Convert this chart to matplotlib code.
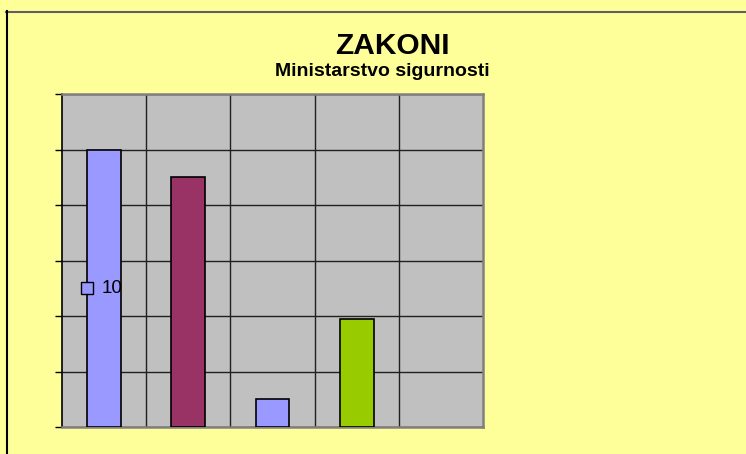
import matplotlib
matplotlib.use("Agg")
import matplotlib.pyplot as plt
from matplotlib.lines import Line2D
from matplotlib.ticker import MultipleLocator

plt.rcParams["font.family"] = ["Liberation Sans", "DejaVu Sans"]

# ── data ──
categories = [0, 1, 2, 3]
values = [10, 9, 1, 3.9]
bar_colors = ["#9999FF", "#993366", "#9999FF", "#99CC00"]
title = "ZAKONI"
subtitle = "Ministarstvo sigurnosti"
label_value = values[0]

BG = "#FFFF99"
PLOT_BG = "#C0C0C0"

fig = plt.figure(figsize=(7.46, 4.54), dpi=100)
fig.patch.set_facecolor(BG)

ax = fig.add_axes([62 / 746, 1 - 427 / 454, 421 / 746, 333 / 454])
ax.set_facecolor(PLOT_BG)

ax.bar(categories, values, width=0.4, color=bar_colors,
       edgecolor="black", linewidth=1.2, zorder=3)

ax.set_xlim(-0.5, 4.5)
ax.set_ylim(0, 12)
ax.yaxis.set_major_locator(MultipleLocator(2))
ax.set_xticks([0.5, 1.5, 2.5, 3.5], minor=True)
ax.set_xticks([])
ax.grid(True, which="major", axis="y", color="#202020", linewidth=1.0, zorder=1)
ax.grid(True, which="minor", axis="x", color="#202020", linewidth=1.0, zorder=1)
ax.tick_params(axis="y", direction="out", length=5, width=1, color="black",
               labelleft=False)
ax.tick_params(axis="x", which="both", length=0, labelbottom=False)

ax.spines["left"].set_color("black")
ax.spines["left"].set_linewidth(1.2)
for s in ("top", "right", "bottom"):
    ax.spines[s].set_color("#808080")
    ax.spines[s].set_linewidth(1.8)

# data label with legend key on the first bar
lx = categories[0] - 0.2
ly = label_value / 2
ax.plot([lx], [ly], marker="s", markersize=8, markerfacecolor=bar_colors[0],
        markeredgecolor="black", markeredgewidth=1.0, zorder=5, clip_on=False)
ax.annotate(str(label_value), (lx, ly), xytext=(10, 0), textcoords="offset points",
            ha="left", va="center", fontsize=13.5, color="black", zorder=6)

# titles
fig.text(392 / 746, 1 - 46 / 454, title, ha="center", va="center",
         fontsize=21.5, fontweight="bold")
fig.text(382 / 746, 1 - 71 / 454, subtitle, ha="center", va="center",
         fontsize=14, fontweight="bold")

# chart border (top and left)
fig.add_artist(Line2D([6 / 746, 1], [1 - 11.5 / 454, 1 - 11.5 / 454],
                      color="#606060", linewidth=1.5, transform=fig.transFigure))
fig.add_artist(Line2D([6.5 / 746, 6.5 / 746], [0, 1 - 11 / 454],
                      color="black", linewidth=1.5, transform=fig.transFigure))

fig.savefig("out.png", dpi=100, facecolor=BG)
